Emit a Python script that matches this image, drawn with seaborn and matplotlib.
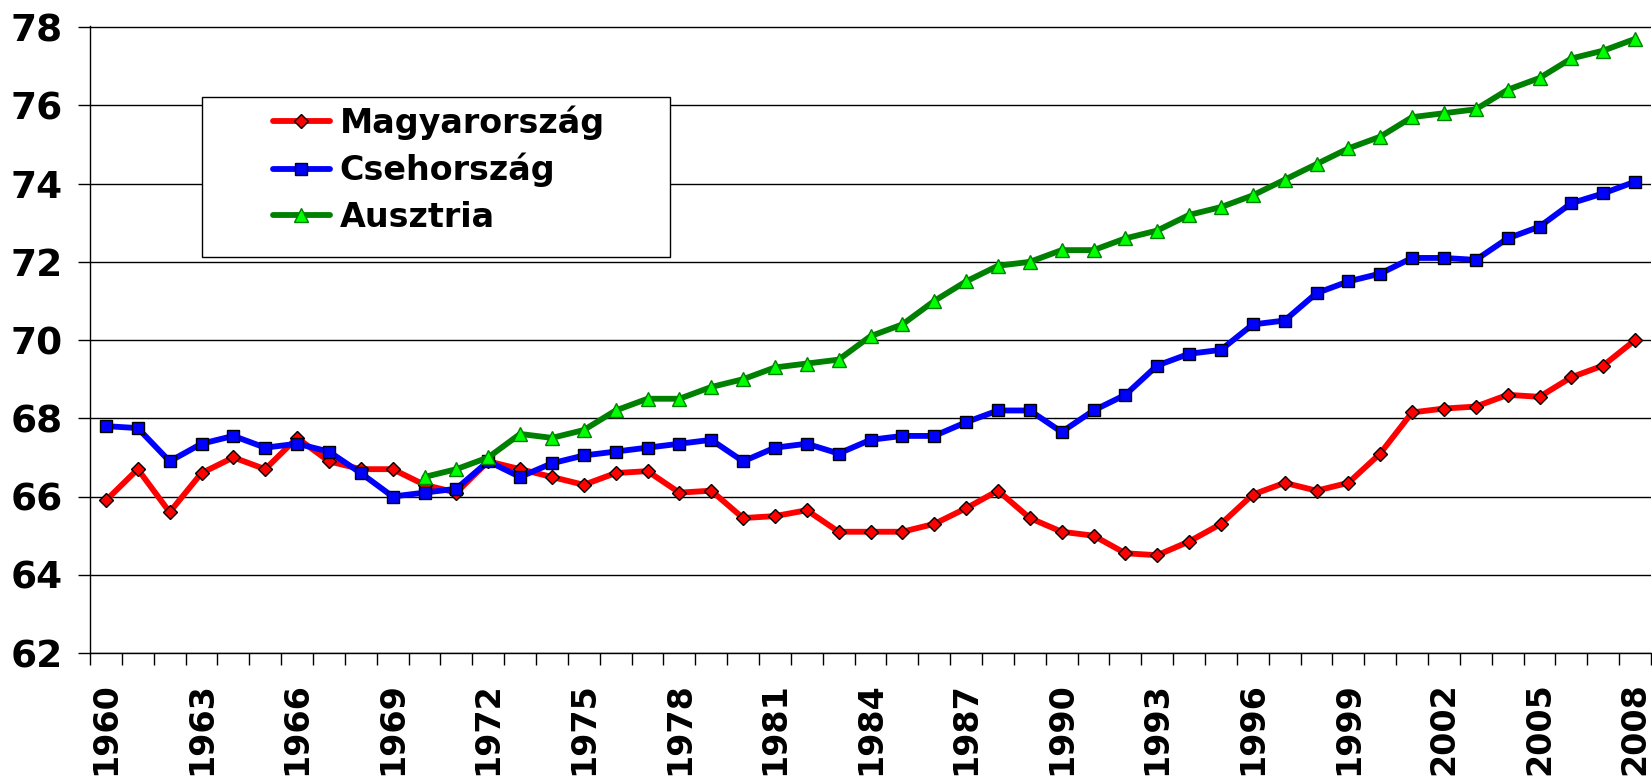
import numpy as np
import matplotlib
matplotlib.use("Agg")
import matplotlib.pyplot as plt
from matplotlib.patches import Rectangle
import seaborn as sns

years = list(range(1960, 2009))

hungary = [65.9, 66.7, 65.6, 66.6, 67.0, 66.7, 67.5, 66.9, 66.7, 66.7,
           66.3, 66.1, 66.9, 66.7, 66.5, 66.3, 66.6, 66.65, 66.1, 66.15,
           65.45, 65.5, 65.65, 65.1, 65.1, 65.1, 65.3, 65.7, 66.15, 65.45,
           65.1, 65.0, 64.55, 64.5, 64.85, 65.3, 66.05, 66.35, 66.15, 66.35,
           67.1, 68.15, 68.25, 68.3, 68.6, 68.55, 69.05, 69.35, 70.0]

czech = [67.8, 67.75, 66.9, 67.35, 67.55, 67.25, 67.35, 67.15, 66.6, 66.0,
         66.1, 66.2, 66.9, 66.5, 66.85, 67.05, 67.15, 67.25, 67.35, 67.45,
         66.9, 67.25, 67.35, 67.1, 67.45, 67.55, 67.55, 67.9, 68.2, 68.2,
         67.65, 68.2, 68.6, 69.35, 69.65, 69.75, 70.4, 70.5, 71.2, 71.5,
         71.7, 72.1, 72.1, 72.05, 72.6, 72.9, 73.5, 73.75, 74.05]

# Austria series starts in 1970
austria_years = list(range(1970, 2009))
austria = [66.5, 66.7, 67.0, 67.6, 67.5, 67.7, 68.2, 68.5, 68.5, 68.8,
           69.0, 69.3, 69.4, 69.5, 70.1, 70.4, 71.0, 71.5, 71.9, 72.0,
           72.3, 72.3, 72.6, 72.8, 73.2, 73.4, 73.7, 74.1, 74.5, 74.9,
           75.2, 75.7, 75.8, 75.9, 76.4, 76.7, 77.2, 77.4, 77.7]

labels = ["Magyarország", "Csehország", "Ausztria"]
year_labels = list(range(1960, 2009, 3))
y_ticks = list(range(62, 80, 2))

sns.set_style("white")
plt.rcParams["font.family"] = ["DejaVu Sans"]
plt.rcParams["font.weight"] = "bold"
plt.rcParams["text.color"] = "black"
plt.rcParams["xtick.color"] = "black"
plt.rcParams["ytick.color"] = "black"

W, H = 1652, 778
fig = plt.figure(figsize=(W / 100, H / 100), dpi=100)
ax = fig.add_axes([90 / W, 1 - 653 / H, (1651 - 90) / W, (653 - 26) / H])

LW = 4.2
sns.lineplot(x=years, y=hungary, ax=ax, color="#ff0000", linewidth=LW,
             marker="D", markersize=7.3, markerfacecolor="#ff0000",
             markeredgecolor="black", markeredgewidth=1.0, label=labels[0])
sns.lineplot(x=years, y=czech, ax=ax, color="#0000ff", linewidth=LW,
             marker="s", markersize=8.3, markerfacecolor="#0000ff",
             markeredgecolor="black", markeredgewidth=1.0, label=labels[1])
sns.lineplot(x=austria_years, y=austria, ax=ax, color="#008000", linewidth=LW,
             marker="^", markersize=10, markerfacecolor="#00ff00",
             markeredgecolor="#008000", markeredgewidth=1.0, label=labels[2])

ax.set_xlim(1959.5, 2008.5)
ax.set_ylim(62, 78.03)

# category-style x axis: marks at boundaries, labels every 3rd year
ax.set_xticks(year_labels)
ax.set_xticklabels([str(y) for y in year_labels], rotation=90,
                   fontsize=24, fontweight="bold", color="black")
ax.set_xticks(np.arange(1959.5, 2009.0, 1.0), minor=True)
ax.tick_params(axis="x", which="major", bottom=True, length=0, pad=21)
ax.tick_params(axis="x", which="minor", bottom=True, length=8.6, width=1.0,
               color="black", direction="out")

ax.set_yticks(y_ticks)
ax.set_yticklabels([str(v) for v in y_ticks], fontsize=27, fontweight="bold",
                   color="black")
ax.tick_params(axis="y", left=True, length=8.6, width=1.0, color="black",
               direction="out", pad=11)

ax.grid(axis="y", color="black", linewidth=1.0)
ax.grid(axis="x", visible=False)
for side in ("top", "right"):
    ax.spines[side].set_visible(False)
for side in ("left", "bottom"):
    ax.spines[side].set_color("black")
    ax.spines[side].set_linewidth(1.0)

ax.set_xlabel("")
ax.set_ylabel("")

# legend box drawn as plain frame, entries placed inside it
frame = Rectangle((202 / W, 1 - 257 / H), 468 / W, 160 / H,
                  transform=fig.transFigure, facecolor="white",
                  edgecolor="black", linewidth=1.0, zorder=4, clip_on=False)
ax.add_patch(frame)
ax.legend(loc="upper left", bbox_to_anchor=(273 / W, 1 - 105 / H),
          bbox_transform=fig.transFigure, frameon=False, borderpad=0,
          borderaxespad=0, handlelength=1.7, handletextpad=0.3,
          labelspacing=0.4, prop={"size": 24, "weight": "bold"},
          labelcolor="black")

fig.savefig("out.png", dpi=100)
